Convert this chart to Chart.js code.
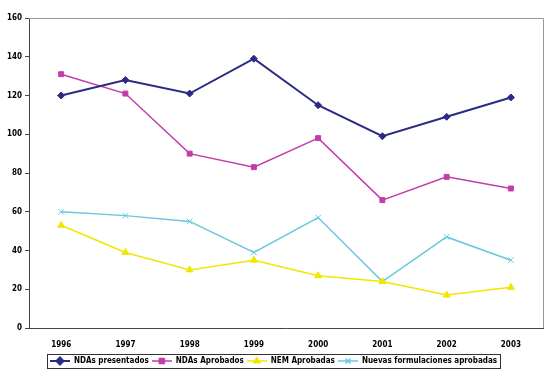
<!DOCTYPE html>
<html>
<head>
<meta charset="utf-8">
<script src="https://cdn.jsdelivr.net/npm/chart.js@4/dist/chart.umd.min.js"></script>
<style>
  html, body { margin: 0; padding: 0; background: #fff; }
  #wrap { width: 550px; height: 375px; }
</style>
</head>
<body>
<div id="wrap"><canvas id="chart" width="550" height="375"></canvas></div>
<script>
// Data
const YEARS = ['1996', '1997', '1998', '1999', '2000', '2001', '2002', '2003'];
const NDA_PRESENTADOS = [120, 128, 121, 139, 115, 99, 109, 119];
const NDA_APROBADOS = [131, 121, 90, 83, 98, 66, 78, 72];
const NEM_APROBADAS = [53, 39, 30, 35, 27, 24, 17, 21];
const NUEVAS_FORMULACIONES = [60, 58, 55, 39, 57, 24, 47, 35];

const FONT = '"Liberation Sans Narrow", "Arial Narrow", "DejaVu Sans Condensed", sans-serif';

// Small legend icon: line with marker
function legendIcon(color, style, lw) {
  const c = document.createElement('canvas');
  c.width = 20; c.height = 10;
  const g = c.getContext('2d');
  g.strokeStyle = color; g.fillStyle = color; g.lineWidth = lw;
  g.beginPath(); g.moveTo(0, 5); g.lineTo(20, 5); g.stroke();
  Chart.helpers.drawPoint(g, { pointStyle: style, radius: 3.5, borderWidth: 1 }, 10, 5);
  if (style !== 'crossRot') g.fill();
  return c;
}

const series = [
  { label: 'NDAs presentados', data: NDA_PRESENTADOS, color: '#2B2B85', style: 'rectRot', lw: 2, r: 3.5 },
  { label: 'NDAs Aprobados', data: NDA_APROBADOS, color: '#C23DA8', style: 'rect', lw: 1.5, r: 3.5 },
  { label: 'NEM Aprobadas', data: NEM_APROBADAS, color: '#F2E600', style: 'triangle', lw: 1.5, r: 4 },
  { label: 'Nuevas formulaciones aprobadas', data: NUEVAS_FORMULACIONES, color: '#66C8DC', style: 'crossRot', lw: 1.5, r: 4 }
];

// Plot border on top/right and legend frame
const framePlugin = {
  id: 'frame',
  afterDraw(chart) {
    const { ctx, chartArea: a } = chart;
    ctx.save();
    ctx.strokeStyle = '#999';
    ctx.lineWidth = 1;
    ctx.beginPath();
    ctx.moveTo(a.left, a.top + 0.5);
    ctx.lineTo(a.right + 0.5, a.top + 0.5);
    ctx.lineTo(a.right + 0.5, a.bottom);
    ctx.stroke();
    const boxes = chart.legend.legendHitBoxes;
    if (boxes && boxes.length) {
      const l = boxes[0].left - 3;
      const r = boxes[boxes.length - 1].left + boxes[boxes.length - 1].width + 3;
      const t = boxes[0].top - 3;
      const b = boxes[0].top + boxes[0].height + 3;
      ctx.strokeStyle = '#333';
      ctx.strokeRect(Math.round(l) + 0.5, Math.round(t) + 0.5, Math.round(r - l), Math.round(b - t));
    }
    ctx.restore();
  }
};

new Chart(document.getElementById('chart'), {
  type: 'line',
  data: {
    labels: YEARS,
    datasets: series.map(s => ({
      label: s.label,
      data: s.data,
      borderColor: s.color,
      backgroundColor: s.color,
      borderWidth: s.lw,
      pointStyle: s.style,
      pointRadius: s.r,
      pointBorderWidth: 1,
      pointBorderColor: s.color,
      pointBackgroundColor: s.color,
      tension: 0,
      fill: false
    }))
  },
  options: {
    responsive: false,
    animation: false,
    layout: { padding: { left: 4, right: 7, top: 18, bottom: 0 } },
    plugins: {
      tooltip: { enabled: false },
      legend: {
        position: 'bottom',
        labels: {
          usePointStyle: true,
          pointStyleWidth: 20,
          boxWidth: 20,
          boxHeight: 10,
          padding: 3,
          color: '#000',
          font: { family: FONT, size: 8, weight: 'bold' },
          generateLabels(chart) {
            return series.map((s, i) => ({
              text: s.label,
              pointStyle: legendIcon(s.color, s.style, s.lw),
              fillStyle: s.color,
              strokeStyle: s.color,
              lineWidth: 0,
              hidden: false,
              datasetIndex: i
            }));
          }
        }
      }
    },
    scales: {
      x: {
        offset: true,
        grid: { display: false, drawOnChartArea: false, offset: true, drawTicks: true, tickLength: 4, color: '#444' },
        border: { display: true, color: '#444', width: 1 },
        ticks: { color: '#000', font: { family: FONT, size: 8, weight: 'bold' }, padding: 8, maxRotation: 0 },
        afterFit(scale) { scale.height = 26; }
      },
      y: {
        min: 0,
        max: 160,
        grid: { drawOnChartArea: false, tickLength: 4, color: '#444' },
        border: { display: true, color: '#444', width: 1 },
        ticks: { stepSize: 20, color: '#000', font: { family: FONT, size: 8, weight: 'bold' }, padding: 3 }
      }
    }
  },
  plugins: [framePlugin]
});
</script>
</body>
</html>
